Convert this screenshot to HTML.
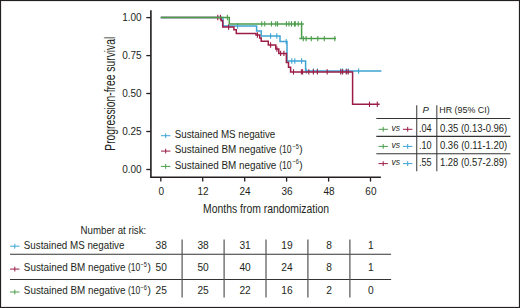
<!DOCTYPE html>
<html><head><meta charset="utf-8"><style>
html,body{margin:0;padding:0;background:#fff;}
svg{display:block;}
text{font-family:"Liberation Sans",sans-serif;fill:#231f20;}
.t9{font-size:10px;}
.t10{font-size:10px;}
.t10r{font-size:10.2px;}
.t10i{font-size:10.4px;font-style:italic;}
.ax{font-size:13.6px;}
.sup{font-size:6.8px;}
</style></head><body>
<svg width="520" height="308" viewBox="0 0 520 308">
<rect x="0.5" y="0.5" width="519" height="307" fill="#fff" stroke="#231f20" stroke-width="1.2"/>
<path d="M150.9,10.2 V177.2 H380.9" fill="none" stroke="#231f20" stroke-width="1.6"/>
<line x1="146.3" y1="17.6" x2="150.9" y2="17.6" stroke="#231f20" stroke-width="1.3"/>
<text x="141.6" y="20.8" text-anchor="end" class="t9">1.00</text>
<line x1="146.3" y1="55.6" x2="150.9" y2="55.6" stroke="#231f20" stroke-width="1.3"/>
<text x="141.6" y="58.8" text-anchor="end" class="t9">0.75</text>
<line x1="146.3" y1="93.5" x2="150.9" y2="93.5" stroke="#231f20" stroke-width="1.3"/>
<text x="141.6" y="96.7" text-anchor="end" class="t9">0.50</text>
<line x1="146.3" y1="131.5" x2="150.9" y2="131.5" stroke="#231f20" stroke-width="1.3"/>
<text x="141.6" y="134.7" text-anchor="end" class="t9">0.25</text>
<line x1="146.3" y1="169.5" x2="150.9" y2="169.5" stroke="#231f20" stroke-width="1.3"/>
<text x="141.6" y="172.7" text-anchor="end" class="t9">0.00</text>
<line x1="160.8" y1="177.2" x2="160.8" y2="181.6" stroke="#231f20" stroke-width="1.3"/>
<text x="161.2" y="195.3" text-anchor="middle" class="t9">0</text>
<line x1="202.7" y1="177.2" x2="202.7" y2="181.6" stroke="#231f20" stroke-width="1.3"/>
<text x="203.1" y="195.3" text-anchor="middle" class="t9">12</text>
<line x1="244.7" y1="177.2" x2="244.7" y2="181.6" stroke="#231f20" stroke-width="1.3"/>
<text x="245.1" y="195.3" text-anchor="middle" class="t9">24</text>
<line x1="286.6" y1="177.2" x2="286.6" y2="181.6" stroke="#231f20" stroke-width="1.3"/>
<text x="287.0" y="195.3" text-anchor="middle" class="t9">36</text>
<line x1="328.6" y1="177.2" x2="328.6" y2="181.6" stroke="#231f20" stroke-width="1.3"/>
<text x="329.0" y="195.3" text-anchor="middle" class="t9">48</text>
<line x1="370.5" y1="177.2" x2="370.5" y2="181.6" stroke="#231f20" stroke-width="1.3"/>
<text x="370.9" y="195.3" text-anchor="middle" class="t9">60</text>
<text x="203.1" y="213.4" class="ax" textLength="126" lengthAdjust="spacingAndGlyphs">Months from randomization</text>
<text transform="translate(114.5,150.7) rotate(-90)" x="0" y="0" class="ax" style="font-size:14.2px" textLength="114" lengthAdjust="spacingAndGlyphs">Progression-free survival</text>
<path d="M160.8,17.5 H223 V26 H256.6 V31 H261.2 V36 H280 V41.6 H287 V61 H305.6 V71.1 H381.4" fill="none" stroke="#3ea4d4" stroke-width="1.5"/>
<line x1="237.6" y1="23.3" x2="237.6" y2="28.7" stroke="#3ea4d4" stroke-width="1.1"/><line x1="270.6" y1="33.3" x2="270.6" y2="38.7" stroke="#3ea4d4" stroke-width="1.1"/><line x1="276.8" y1="33.3" x2="276.8" y2="38.7" stroke="#3ea4d4" stroke-width="1.1"/><line x1="286.2" y1="38.9" x2="286.2" y2="44.3" stroke="#3ea4d4" stroke-width="1.1"/><line x1="291.8" y1="58.3" x2="291.8" y2="63.7" stroke="#3ea4d4" stroke-width="1.1"/><line x1="294.8" y1="58.3" x2="294.8" y2="63.7" stroke="#3ea4d4" stroke-width="1.1"/><line x1="301.6" y1="58.3" x2="301.6" y2="63.7" stroke="#3ea4d4" stroke-width="1.1"/><line x1="306.3" y1="68.4" x2="306.3" y2="73.8" stroke="#3ea4d4" stroke-width="1.1"/><line x1="313.4" y1="68.4" x2="313.4" y2="73.8" stroke="#3ea4d4" stroke-width="1.1"/><line x1="317.4" y1="68.4" x2="317.4" y2="73.8" stroke="#3ea4d4" stroke-width="1.1"/><line x1="340.8" y1="68.4" x2="340.8" y2="73.8" stroke="#3ea4d4" stroke-width="1.1"/><line x1="342.6" y1="68.4" x2="342.6" y2="73.8" stroke="#3ea4d4" stroke-width="1.1"/><line x1="346.3" y1="68.4" x2="346.3" y2="73.8" stroke="#3ea4d4" stroke-width="1.1"/><line x1="348.2" y1="68.4" x2="348.2" y2="73.8" stroke="#3ea4d4" stroke-width="1.1"/><line x1="358.6" y1="68.4" x2="358.6" y2="73.8" stroke="#3ea4d4" stroke-width="1.1"/>
<path d="M160.8,17.5 H221.2 V20.7 H222.7 V27 H233.9 V29.8 H236.3 V33.6 H256 V35 H259.7 V38 H261.2 V41.3 H268.3 V45 H275.8 V49 H278.8 V53.4 H286.4 V62.5 H288.5 V67.3 H290.6 V71.9 H352.6 V104.3 H379.6" fill="none" stroke="#9b1c45" stroke-width="1.5"/>
<line x1="217.8" y1="14.8" x2="217.8" y2="20.2" stroke="#9b1c45" stroke-width="1.1"/><line x1="220.4" y1="14.8" x2="220.4" y2="20.2" stroke="#9b1c45" stroke-width="1.1"/><line x1="228.6" y1="24.3" x2="228.6" y2="29.7" stroke="#9b1c45" stroke-width="1.1"/><line x1="257.4" y1="32.3" x2="257.4" y2="37.7" stroke="#9b1c45" stroke-width="1.1"/><line x1="270.6" y1="42.3" x2="270.6" y2="47.7" stroke="#9b1c45" stroke-width="1.1"/><line x1="276.9" y1="46.3" x2="276.9" y2="51.7" stroke="#9b1c45" stroke-width="1.1"/><line x1="280.6" y1="50.7" x2="280.6" y2="56.1" stroke="#9b1c45" stroke-width="1.1"/><line x1="283.9" y1="50.7" x2="283.9" y2="56.1" stroke="#9b1c45" stroke-width="1.1"/><line x1="293.5" y1="69.2" x2="293.5" y2="74.6" stroke="#9b1c45" stroke-width="1.1"/><line x1="301.4" y1="69.2" x2="301.4" y2="74.6" stroke="#9b1c45" stroke-width="1.1"/><line x1="302.6" y1="69.2" x2="302.6" y2="74.6" stroke="#9b1c45" stroke-width="1.1"/><line x1="308.8" y1="69.2" x2="308.8" y2="74.6" stroke="#9b1c45" stroke-width="1.1"/><line x1="313.4" y1="69.2" x2="313.4" y2="74.6" stroke="#9b1c45" stroke-width="1.1"/><line x1="317.4" y1="69.2" x2="317.4" y2="74.6" stroke="#9b1c45" stroke-width="1.1"/><line x1="327.2" y1="69.2" x2="327.2" y2="74.6" stroke="#9b1c45" stroke-width="1.1"/><line x1="340.8" y1="69.2" x2="340.8" y2="74.6" stroke="#9b1c45" stroke-width="1.1"/><line x1="342.6" y1="69.2" x2="342.6" y2="74.6" stroke="#9b1c45" stroke-width="1.1"/><line x1="346.3" y1="69.2" x2="346.3" y2="74.6" stroke="#9b1c45" stroke-width="1.1"/><line x1="348.2" y1="69.2" x2="348.2" y2="74.6" stroke="#9b1c45" stroke-width="1.1"/><line x1="369.5" y1="101.6" x2="369.5" y2="107.0" stroke="#9b1c45" stroke-width="1.1"/><line x1="377.3" y1="101.6" x2="377.3" y2="107.0" stroke="#9b1c45" stroke-width="1.1"/>
<path d="M160.8,17.5 H229.3 V23.9 H301.6 V38.6 H336 M301.6,23.9 H303.8 M299.3,38.6 H301.6" fill="none" stroke="#4b9d4b" stroke-width="1.5"/>
<line x1="227.4" y1="14.8" x2="227.4" y2="20.2" stroke="#4b9d4b" stroke-width="1.1"/><line x1="261.75" y1="21.2" x2="261.75" y2="26.6" stroke="#4b9d4b" stroke-width="1.1"/><line x1="264.75" y1="21.2" x2="264.75" y2="26.6" stroke="#4b9d4b" stroke-width="1.1"/><line x1="271.5" y1="21.2" x2="271.5" y2="26.6" stroke="#4b9d4b" stroke-width="1.1"/><line x1="275.75" y1="21.2" x2="275.75" y2="26.6" stroke="#4b9d4b" stroke-width="1.1"/><line x1="277.5" y1="21.2" x2="277.5" y2="26.6" stroke="#4b9d4b" stroke-width="1.1"/><line x1="286.4" y1="21.2" x2="286.4" y2="26.6" stroke="#4b9d4b" stroke-width="1.1"/><line x1="289" y1="21.2" x2="289" y2="26.6" stroke="#4b9d4b" stroke-width="1.1"/><line x1="291.5" y1="21.2" x2="291.5" y2="26.6" stroke="#4b9d4b" stroke-width="1.1"/><line x1="294.5" y1="21.2" x2="294.5" y2="26.6" stroke="#4b9d4b" stroke-width="1.1"/><line x1="295.3" y1="21.2" x2="295.3" y2="26.6" stroke="#4b9d4b" stroke-width="1.1"/><line x1="298.25" y1="21.2" x2="298.25" y2="26.6" stroke="#4b9d4b" stroke-width="1.1"/><line x1="301.5" y1="21.2" x2="301.5" y2="26.6" stroke="#4b9d4b" stroke-width="1.1"/><line x1="303.3" y1="35.9" x2="303.3" y2="41.3" stroke="#4b9d4b" stroke-width="1.1"/><line x1="306.1" y1="35.9" x2="306.1" y2="41.3" stroke="#4b9d4b" stroke-width="1.1"/><line x1="311.3" y1="35.9" x2="311.3" y2="41.3" stroke="#4b9d4b" stroke-width="1.1"/><line x1="317.8" y1="35.9" x2="317.8" y2="41.3" stroke="#4b9d4b" stroke-width="1.1"/><line x1="324.3" y1="35.9" x2="324.3" y2="41.3" stroke="#4b9d4b" stroke-width="1.1"/><line x1="334.8" y1="35.9" x2="334.8" y2="41.3" stroke="#4b9d4b" stroke-width="1.1"/>
<line x1="161.0" y1="135.7" x2="170.4" y2="135.7" stroke="#3ea4d4" stroke-width="1.0"/><line x1="165.7" y1="133.3" x2="165.7" y2="138.1" stroke="#3ea4d4" stroke-width="1.0"/>
<text x="174.75" y="138.0" class="t10" textLength="100.5" lengthAdjust="spacingAndGlyphs">Sustained MS negative</text>
<line x1="161.0" y1="151.1" x2="170.4" y2="151.1" stroke="#9b1c45" stroke-width="1.0"/><line x1="165.7" y1="148.7" x2="165.7" y2="153.5" stroke="#9b1c45" stroke-width="1.0"/>
<text x="174.75" y="153.3" class="t10" textLength="101.6" lengthAdjust="spacingAndGlyphs">Sustained BM negative</text><text x="279.2" y="153.3" class="t10" textLength="12.4" lengthAdjust="spacingAndGlyphs">(10</text><text x="292.6" y="149.1" class="sup" textLength="6.4" lengthAdjust="spacingAndGlyphs">−5</text><text x="299.3" y="153.3" class="t10">)</text>
<line x1="161.0" y1="166.4" x2="170.4" y2="166.4" stroke="#4b9d4b" stroke-width="1.0"/><line x1="165.7" y1="164.0" x2="165.7" y2="168.8" stroke="#4b9d4b" stroke-width="1.0"/>
<text x="174.75" y="168.6" class="t10" textLength="101.6" lengthAdjust="spacingAndGlyphs">Sustained BM negative</text><text x="279.2" y="168.6" class="t10" textLength="12.4" lengthAdjust="spacingAndGlyphs">(10</text><text x="292.6" y="164.4" class="sup" textLength="6.4" lengthAdjust="spacingAndGlyphs">−6</text><text x="299.3" y="168.6" class="t10">)</text>
<line x1="416.7" y1="105.2" x2="416.7" y2="171.3" stroke="#555" stroke-width="1.2"/>
<line x1="436.8" y1="105.2" x2="436.8" y2="171.3" stroke="#555" stroke-width="1.2"/>
<line x1="376.3" y1="118.45" x2="510.4" y2="118.45" stroke="#333" stroke-width="1.1"/>
<line x1="376.3" y1="136.4" x2="510.4" y2="136.4" stroke="#333" stroke-width="1.1"/>
<line x1="376.3" y1="153.8" x2="510.4" y2="153.8" stroke="#333" stroke-width="1.1"/>
<text x="422.6" y="113" class="t10i" style="font-size:9.6px">P</text>
<text x="439.3" y="113" class="t10" style="font-size:9.6px" textLength="50.4" lengthAdjust="spacingAndGlyphs">HR (95% CI)</text>
<line x1="378.5" y1="129.3" x2="387.9" y2="129.3" stroke="#4b9d4b" stroke-width="1.0"/><line x1="383.2" y1="126.9" x2="383.2" y2="131.7" stroke="#4b9d4b" stroke-width="1.0"/>
<text x="391.4" y="130.6" class="t10i" style="font-size:9.6px" textLength="8.6" lengthAdjust="spacingAndGlyphs">vs</text>
<line x1="403.0" y1="129.3" x2="412.4" y2="129.3" stroke="#9b1c45" stroke-width="1.0"/><line x1="407.7" y1="126.9" x2="407.7" y2="131.7" stroke="#9b1c45" stroke-width="1.0"/>
<text x="419" y="131.7" class="t10" textLength="12.6" lengthAdjust="spacingAndGlyphs">.04</text>
<text x="439.9" y="131.7" class="t10" textLength="67.4" lengthAdjust="spacingAndGlyphs">0.35 (0.13-0.96)</text>
<line x1="378.5" y1="146.4" x2="387.9" y2="146.4" stroke="#4b9d4b" stroke-width="1.0"/><line x1="383.2" y1="144.0" x2="383.2" y2="148.8" stroke="#4b9d4b" stroke-width="1.0"/>
<text x="391.4" y="147.7" class="t10i" style="font-size:9.6px" textLength="8.6" lengthAdjust="spacingAndGlyphs">vs</text>
<line x1="403.0" y1="146.4" x2="412.4" y2="146.4" stroke="#3ea4d4" stroke-width="1.0"/><line x1="407.7" y1="144.0" x2="407.7" y2="148.8" stroke="#3ea4d4" stroke-width="1.0"/>
<text x="419" y="149.0" class="t10" textLength="12.6" lengthAdjust="spacingAndGlyphs">.10</text>
<text x="439.9" y="149.0" class="t10" textLength="67.4" lengthAdjust="spacingAndGlyphs">0.36 (0.11-1.20)</text>
<line x1="378.5" y1="163.6" x2="387.9" y2="163.6" stroke="#9b1c45" stroke-width="1.0"/><line x1="383.2" y1="161.2" x2="383.2" y2="166.0" stroke="#9b1c45" stroke-width="1.0"/>
<text x="391.4" y="164.9" class="t10i" style="font-size:9.6px" textLength="8.6" lengthAdjust="spacingAndGlyphs">vs</text>
<line x1="403.0" y1="163.6" x2="412.4" y2="163.6" stroke="#3ea4d4" stroke-width="1.0"/><line x1="407.7" y1="161.2" x2="407.7" y2="166.0" stroke="#3ea4d4" stroke-width="1.0"/>
<text x="419" y="166.4" class="t10" textLength="12.6" lengthAdjust="spacingAndGlyphs">.55</text>
<text x="439.9" y="166.4" class="t10" textLength="67.4" lengthAdjust="spacingAndGlyphs">1.28 (0.57-2.89)</text>
<text x="80.6" y="233.7" class="t10r" textLength="65.6" lengthAdjust="spacingAndGlyphs">Number at risk:</text>
<line x1="10" y1="254.3" x2="391.1" y2="254.3" stroke="#333" stroke-width="1.1"/>
<line x1="10" y1="279.5" x2="391.1" y2="279.5" stroke="#333" stroke-width="1.1"/>
<line x1="182.1" y1="239.4" x2="182.1" y2="297.4" stroke="#555" stroke-width="1.2"/>
<line x1="224.1" y1="239.4" x2="224.1" y2="297.4" stroke="#555" stroke-width="1.2"/>
<line x1="266.0" y1="239.4" x2="266.0" y2="297.4" stroke="#555" stroke-width="1.2"/>
<line x1="307.9" y1="239.4" x2="307.9" y2="297.4" stroke="#555" stroke-width="1.2"/>
<line x1="349.9" y1="239.4" x2="349.9" y2="297.4" stroke="#555" stroke-width="1.2"/>
<line x1="10.1" y1="246.2" x2="19.5" y2="246.2" stroke="#3ea4d4" stroke-width="1.0"/><line x1="14.8" y1="243.8" x2="14.8" y2="248.6" stroke="#3ea4d4" stroke-width="1.0"/>
<text x="23.8" y="248.9" class="t10r" textLength="100.6" lengthAdjust="spacingAndGlyphs">Sustained MS negative</text>
<text x="161.2" y="248.9" text-anchor="middle" class="t10r">38</text>
<text x="203.1" y="248.9" text-anchor="middle" class="t10r">38</text>
<text x="245.1" y="248.9" text-anchor="middle" class="t10r">31</text>
<text x="287.0" y="248.9" text-anchor="middle" class="t10r">19</text>
<text x="329.0" y="248.9" text-anchor="middle" class="t10r">8</text>
<text x="370.9" y="248.9" text-anchor="middle" class="t10r">1</text>
<line x1="10.1" y1="269.1" x2="19.5" y2="269.1" stroke="#9b1c45" stroke-width="1.0"/><line x1="14.8" y1="266.7" x2="14.8" y2="271.5" stroke="#9b1c45" stroke-width="1.0"/>
<text x="23.8" y="271.4" class="t10r" textLength="101.6" lengthAdjust="spacingAndGlyphs">Sustained BM negative</text><text x="128.0" y="271.4" class="t10r" textLength="12.4" lengthAdjust="spacingAndGlyphs">(10</text><text x="140.6" y="267.2" class="sup" textLength="6.4" lengthAdjust="spacingAndGlyphs">−5</text><text x="147.6" y="271.4" class="t10r">)</text>
<text x="161.2" y="271.4" text-anchor="middle" class="t10r">50</text>
<text x="203.1" y="271.4" text-anchor="middle" class="t10r">50</text>
<text x="245.1" y="271.4" text-anchor="middle" class="t10r">40</text>
<text x="287.0" y="271.4" text-anchor="middle" class="t10r">24</text>
<text x="329.0" y="271.4" text-anchor="middle" class="t10r">8</text>
<text x="370.9" y="271.4" text-anchor="middle" class="t10r">1</text>
<line x1="10.1" y1="292.0" x2="19.5" y2="292.0" stroke="#4b9d4b" stroke-width="1.0"/><line x1="14.8" y1="289.6" x2="14.8" y2="294.4" stroke="#4b9d4b" stroke-width="1.0"/>
<text x="23.8" y="294.2" class="t10r" textLength="101.6" lengthAdjust="spacingAndGlyphs">Sustained BM negative</text><text x="128.0" y="294.2" class="t10r" textLength="12.4" lengthAdjust="spacingAndGlyphs">(10</text><text x="140.6" y="290.0" class="sup" textLength="6.4" lengthAdjust="spacingAndGlyphs">−6</text><text x="147.6" y="294.2" class="t10r">)</text>
<text x="161.2" y="294.2" text-anchor="middle" class="t10r">25</text>
<text x="203.1" y="294.2" text-anchor="middle" class="t10r">25</text>
<text x="245.1" y="294.2" text-anchor="middle" class="t10r">22</text>
<text x="287.0" y="294.2" text-anchor="middle" class="t10r">16</text>
<text x="329.0" y="294.2" text-anchor="middle" class="t10r">2</text>
<text x="370.9" y="294.2" text-anchor="middle" class="t10r">0</text>
</svg>
</body></html>
